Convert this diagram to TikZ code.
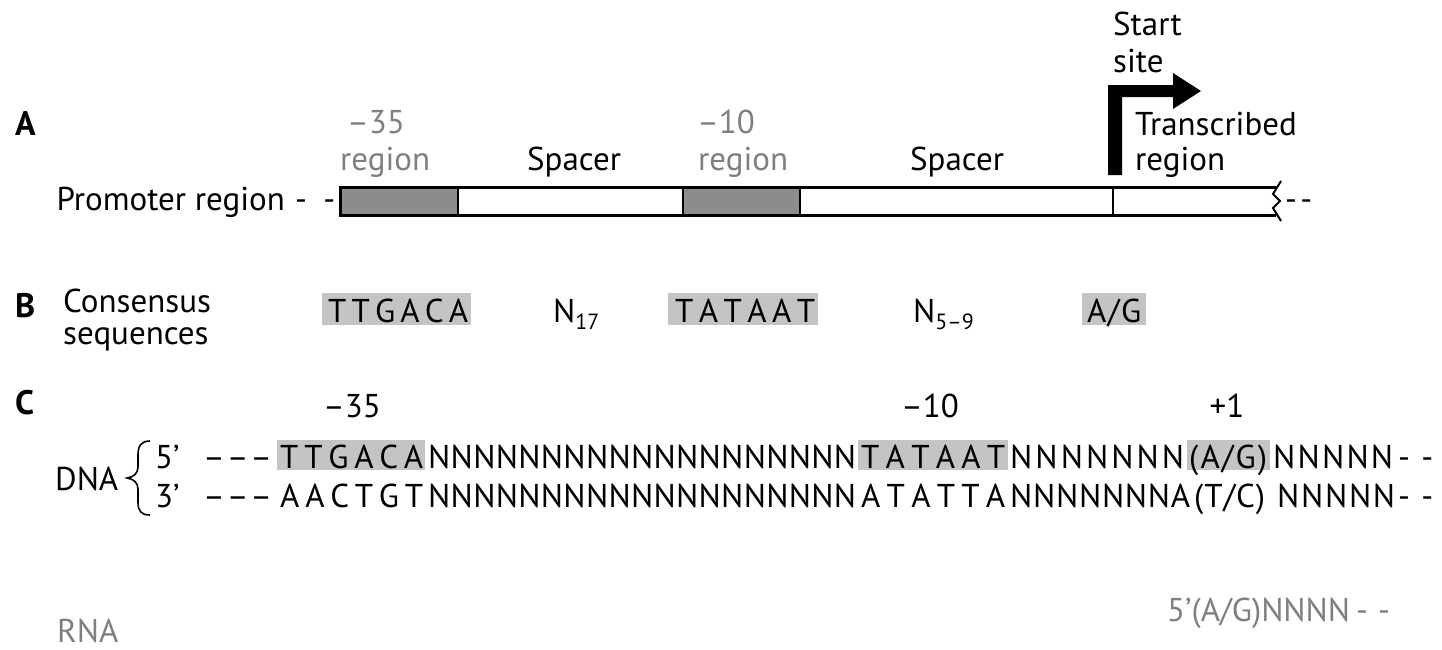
\documentclass[tikz,border=0pt]{standalone}
\usepackage{fontspec}
\setmainfont{PT Sans}
\definecolor{lblgray}{HTML}{7F7F7F}
\definecolor{hlgray}{HTML}{C4C4C4}
\definecolor{dkgray}{HTML}{8C8C8C}
\newcommand\spreadtxt[2]{\makebox[#1][s]{\spreadaux#2\relax}}
\def\spreadaux#1#2\relax{#1\ifx\relax#2\relax\else\hfil\spreadaux#2\relax\fi}
\begin{document}
\begin{tikzpicture}[x=1pt,y=-1pt,
 txt/.style={font=\fontsize{33}{38}\selectfont, inner sep=0pt, anchor=base west},
 gtxt/.style={txt, text=lblgray},
 lbl/.style={font=\bfseries\fontsize{34}{38}\selectfont, inner sep=0pt, anchor=base west},
 hl/.style={fill=hlgray, draw=none},
 dk/.style={fill=dkgray, draw=none},
 barline/.style={line width=3pt},
 sepline/.style={line width=2pt}]
\useasboundingbox (0,0) rectangle (1442,649);

% ---------- A ----------
\node[lbl] (la) at (15,135) {A};
\node[txt, anchor=base east] (prom) at (285,210) {Promoter region};
\node[txt] (pdash) at (295,210) {\spreadtxt{40pt}{--}};
\fill[dk] (340,187) rectangle (458,215);
\fill[dk] (683,187) rectangle (800,215);
\draw[barline] (1276,187) -- (340,187) -- (340,215) -- (1276,215);
\draw[sepline] (458,187) -- (458,215);
\draw[sepline] (683,187) -- (683,215);
\draw[sepline] (800,187) -- (800,215);
\draw[line width=1.5pt] (1113,187) -- (1113,215);
\draw[line width=2pt] (1281,181) -- (1273,194) -- (1280,201) -- (1273,208) -- (1281,221);
\node[txt] (tdash) at (1285,210) {\spreadtxt{27pt}{--}};
\fill (1108,175) -- (1108,85) -- (1173,85) -- (1173,73) -- (1201,91) -- (1173,109) -- (1173,97) -- (1122,97) -- (1122,175) -- cycle;
\node[txt] (start) at (1113,35) {Start};
\node[txt] (site) at (1113,72) {site};
\node[txt] (trans) at (1135,135) {Transcribed};
\node[txt] (treg) at (1135,170) {region};
\node[gtxt] (m35) at (347,133) {–35};
\node[gtxt] (r35) at (340,170) {region};
\node[txt] (sp1) at (527,170) {Spacer};
\node[gtxt] (m10) at (697,133) {–10};
\node[gtxt] (r10) at (698,170) {region};
\node[txt] (sp2) at (910,170) {Spacer};

% ---------- B ----------
\node[lbl] (lb) at (15,317) {B};
\node[txt] (cons) at (63,312) {Consensus};
\node[txt] (seqs) at (63,344) {sequences};
\fill[hl] (322,293) rectangle (471,325);
\node[txt] (b35) at (328,322) {\spreadtxt{140pt}{TTGACA}};
\node[txt] (n17) at (553,322) {N\raisebox{-7pt}{\fontsize{22}{22}\selectfont 17}};
\fill[hl] (668,293) rectangle (818,325);
\node[txt] (b10) at (675,322) {\spreadtxt{140pt}{TATAAT}};
\node[txt] (n59) at (913,322) {N\raisebox{-7pt}{\fontsize{22}{22}\selectfont 5–9}};
\fill[hl] (1082,293) rectangle (1146,325);
\node[txt] (bag) at (1087,322) {\spreadtxt{54pt}{A/G}};

% ---------- C ----------
\node[lbl] (lc) at (15,414) {C};
\node[txt, anchor=base] (p35) at (352,417) {–35};
\node[txt, anchor=base] (p10) at (930,417) {–10};
\node[txt, anchor=base] (p1) at (1227,417) {+1};
\fill[hl] (277,440) rectangle (425,470);
\fill[hl] (858,440) rectangle (1008,470);
\fill[hl] (1187,440) rectangle (1270,470);
\node[txt] (dna) at (55,490) {DNA};
\draw[line width=1.6pt] (150,441) .. controls (141,441) and (138,446) .. (138,455) -- (138,467) .. controls (138,473) and (134,477) .. (127,478) .. controls (134,479) and (138,483) .. (138,489) -- (138,502) .. controls (138,511) and (141,515) .. (150,515);
\node[txt] (five) at (155,468) {5’};
\node[txt] (three) at (155,507) {3’};
% top strand
\node[txt] (t1) at (203,468) {\spreadtxt{69pt}{–––}};
\node[txt] (t2) at (280,468) {\spreadtxt{143pt}{TTGACA}};
\node[txt] (t3) at (428,468) {\spreadtxt{428pt}{NNNNNNNNNNNNNNNNNNN}};
\node[txt] (t4) at (861,468) {\spreadtxt{144pt}{TATAAT}};
\node[txt] (t5) at (1010,468) {\spreadtxt{174pt}{NNNNNNN}};
\node[txt] (t6) at (1189,468) {\spreadtxt{78pt}{(A/G)}};
\node[txt] (t7) at (1273,468) {\spreadtxt{120pt}{NNNNN}};
\node[txt] (t8) at (1398,468) {\spreadtxt{35pt}{--}};
% bottom strand
\node[txt] (b1) at (203,507) {\spreadtxt{69pt}{–––}};
\node[txt] (b2) at (280,507) {\spreadtxt{143pt}{AACTGT}};
\node[txt] (b3) at (428,507) {\spreadtxt{428pt}{NNNNNNNNNNNNNNNNNNN}};
\node[txt] (b4) at (861,507) {\spreadtxt{144pt}{ATATTA}};
\node[txt] (b5) at (1010,507) {\spreadtxt{180pt}{NNNNNNNA}};
\node[txt] (b6) at (1194,507) {\spreadtxt{71pt}{(T/C)}};
\node[txt] (b7) at (1277,507) {\spreadtxt{118pt}{NNNNN}};
\node[txt] (b8) at (1398,507) {\spreadtxt{35pt}{--}};

% RNA
\node[gtxt] (rna) at (57,642) {RNA};
\node[gtxt] (rnaseq) at (1167,621) {5’(A/G)NNNN\kern6pt\spreadtxt{34pt}{--}};
\end{tikzpicture}
\end{document}
